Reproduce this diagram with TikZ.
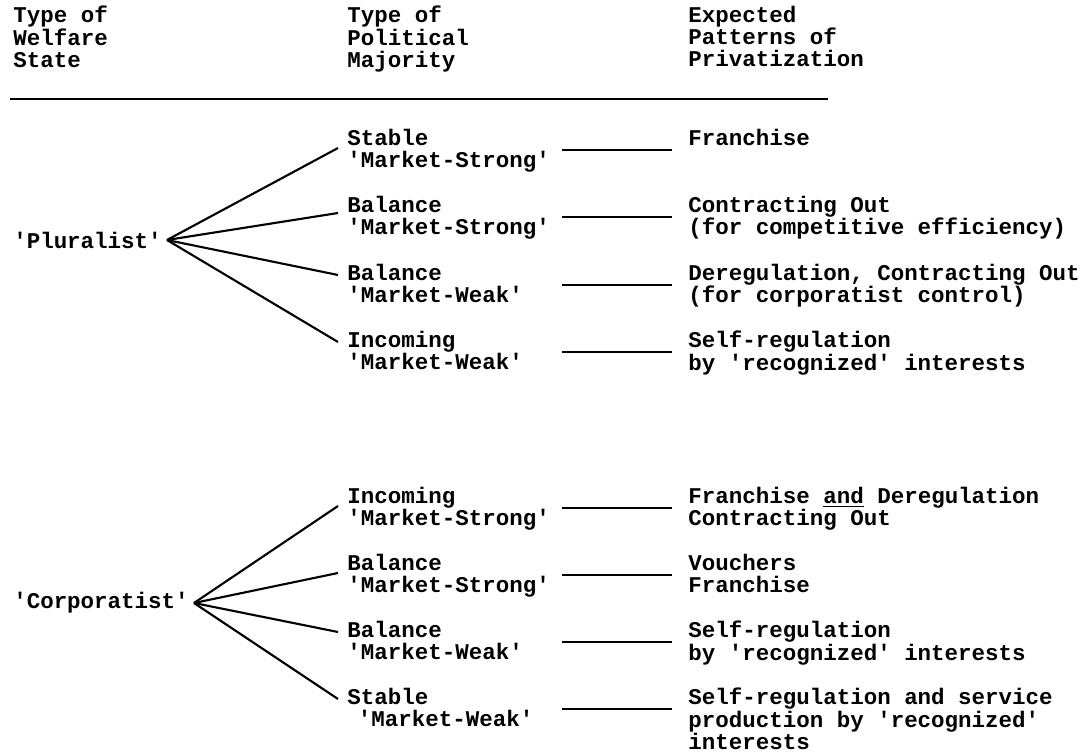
\documentclass[tikz,border=0pt]{standalone}
\usepackage{fontspec}
\newfontfamily\typewriter{Liberation Mono}

\begin{document}
\begin{tikzpicture}[x=0.02cm,y=-0.02cm,
    every node/.style={font=\typewriter\bfseries\fontsize{12.8}{12.6}\selectfont,
      inner sep=0pt, align=left, anchor=north west},
    state/.style={anchor=west, outer xsep=3pt},
    fan/.style={line width=1.2pt},
    link/.style={line width=1.3pt},
    rule/.style={line width=1.6pt}]

  \useasboundingbox (0,0) rectangle (1086,753);

  % column headings
  \node (hState) at (13,6) {Type of\\Welfare\\State};
  \node (hMajority) at (347,6) {Type of\\Political\\Majority};
  \node (hPattern) at (688,6) {Expected\\Patterns of\\Privatization};
  \draw[rule] (10,99) -- (828,99);

  % welfare states
  \node[state] (plur) at (8,240) {'Pluralist'};
  \node[state] (corp) at (8,603) {'Corporatist'};

  % majorities and their patterns
  \foreach \n/\y/\from/\dy/\maj/\pat in {
      1/138/plur/19/{Stable\\'Market-Strong'}/{Franchise},
      2/205/plur/17/{Balance\\'Market-Strong'}/{Contracting Out\\(for competitive efficiency)},
      3/273/plur/11/{Balance\\'Market-Weak'}/{Deregulation, Contracting Out\\(for corporatist control)},
      4/340/plur/11/{Incoming\\'Market-Weak'}/{Self-regulation\\by 'recognized' interests},
      5/496/corp/19/{Incoming\\'Market-Strong'}/{Franchise \underline{and} Deregulation\\Contracting Out},
      6/563/corp/19/{Balance\\'Market-Strong'}/{Vouchers\\Franchise},
      7/630/corp/11/{Balance\\'Market-Weak'}/{Self-regulation\\by 'recognized' interests},
      8/697/corp/11/{Stable\\\hspace{6pt}'Market-Weak'}/{Self-regulation and service\\production by 'recognized'\\interests}}
  {
    \node (maj\n) at (347,\y-9) {\maj};
    \node (pat\n) at (688,\y-9) {\pat};
    \draw[fan] (maj\n.north west) ++(-9,\dy) -- (\from.east);
    \draw[link] (pat\n.north west) ++(-126,21) -- ++(110,0);
  }

\end{tikzpicture}
\end{document}
